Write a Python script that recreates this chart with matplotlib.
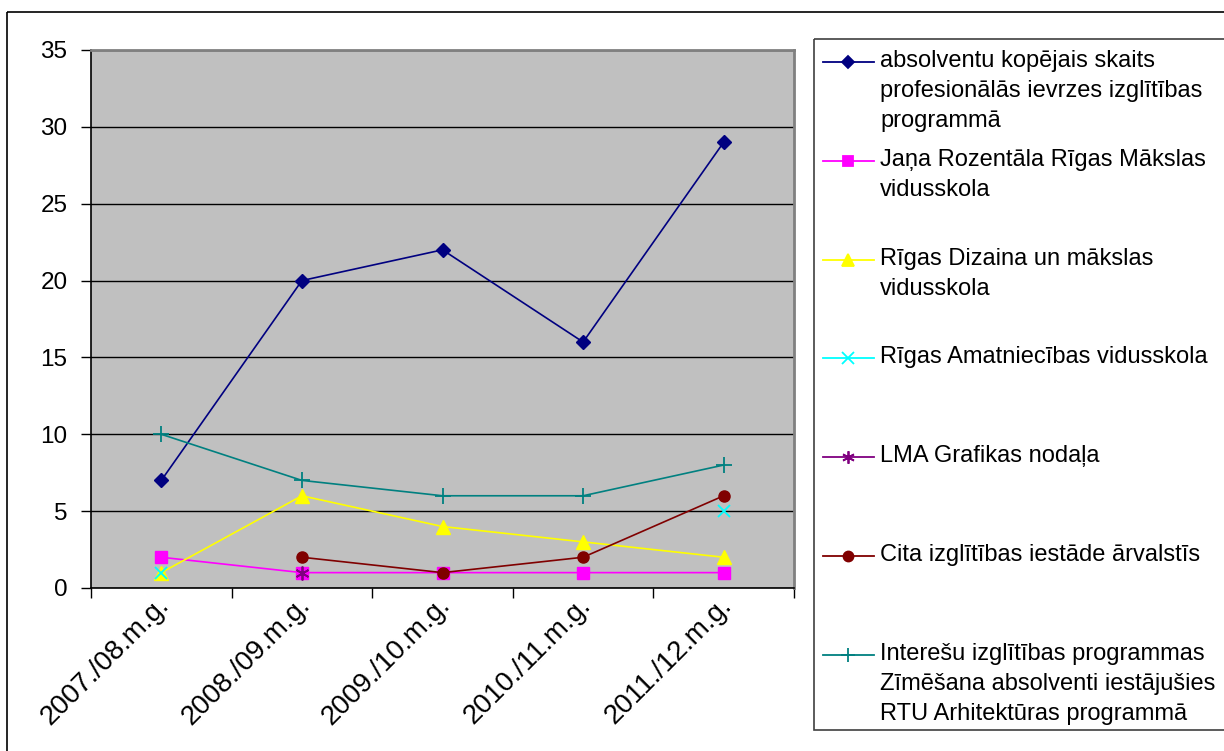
import matplotlib
matplotlib.use("Agg")
import matplotlib.pyplot as plt
import numpy as np
from matplotlib.lines import Line2D
from matplotlib.patches import Rectangle
import matplotlib.transforms as mtransforms

plt.rcParams['font.family'] = ['Liberation Sans', 'DejaVu Sans']

categories = ["2007./08.m.g.", "2008./09.m.g.", "2009./10.m.g.", "2010./11.m.g.", "2011./12.m.g."]
absolventu = [7, 20, 22, 16, 29]
rozentala = [2, 1, 1, 1, 1]
dizaina = [1, 6, 4, 3, 2]
amatniecibas = [1, np.nan, np.nan, np.nan, 5]
lma = [np.nan, 1, np.nan, np.nan, np.nan]
cita = [np.nan, 2, 1, 2, 6]
interesu = [10, 7, 6, 6, 8]

labels = [
    "absolventu kopējais skaits\nprofesionālās ievrzes izglītības\nprogrammā",
    "Jaņa Rozentāla Rīgas Mākslas\nvidusskola",
    "Rīgas Dizaina un mākslas\nvidusskola",
    "Rīgas Amatniecības vidusskola",
    "LMA Grafikas nodaļa",
    "Cita izglītības iestāde ārvalstīs",
    "Interešu izglītības programmas\nZīmēšana absolventi iestājušies\nRTU Arhitektūras programmā",
]
series = [absolventu, rozentala, dizaina, amatniecibas, lma, cita, interesu]
colors = ["#000080", "#FF00FF", "#FFFF00", "#00FFFF", "#800080", "#800000", "#008080"]
markers = ["D", "s", "^", "x", (6, 2, 0), "o", "+"]
msizes = [7, 8, 10, 9, 10, 8, 11]

W, H = 1224, 751
fig = plt.figure(figsize=(W / 100, H / 100), dpi=100)

# overlay for frame and legend in pixel coordinates
ov = fig.add_axes([0, 0, 1, 1], zorder=0)
ov.set_xlim(0, W)
ov.set_ylim(H, 0)
ov.axis('off')
ov.patch.set_visible(False)
ov.add_patch(Rectangle((7, 12), W + 20, H + 20, fill=False, ec='black', lw=1.2))

x0, x1 = 91, 794
ytop, ybot = 50, 588
ax = fig.add_axes([x0 / W, 1 - ybot / H, (x1 - x0) / W, (ybot - ytop) / H], zorder=2)
ax.set_facecolor("#C0C0C0")
xs = np.arange(len(categories))
for s, c, m, ms in zip(series, colors, markers, msizes):
    ax.plot(xs, s, color=c, marker=m, markersize=ms, lw=1.2,
            markeredgewidth=1.3 if m in ("x", "+") or isinstance(m, tuple) else 1.0,
            markeredgecolor=c, clip_on=False, zorder=3)
ax.set_xlim(-0.5, len(categories) - 0.5)
ax.set_ylim(0, 35)
ax.set_yticks(np.arange(0, 36, 5))
ax.yaxis.grid(True, color='black', lw=1.0)
ax.set_axisbelow(True)
ax.set_xticks(np.arange(-0.5, len(categories), 1.0))
ax.set_xticklabels([])
ax.set_xticks(xs, minor=True)
ax.set_xticklabels(categories, minor=True, rotation=45, ha='right', va='top',
                   rotation_mode='anchor', fontsize=20)
ax.tick_params(axis='x', which='minor', length=0, pad=3)
off = mtransforms.ScaledTranslation(-5 / 100, 0, fig.dpi_scale_trans)
for t in ax.xaxis.get_minorticklabels():
    t.set_transform(t.get_transform() + off)
ax.tick_params(axis='x', which='major', length=7, width=1, color='black', direction='out')
ax.tick_params(axis='y', length=7, width=1, labelsize=17.5, pad=10)
for sp in ['left', 'bottom']:
    ax.spines[sp].set_color('black')
    ax.spines[sp].set_linewidth(1.2)
for sp in ['top', 'right']:
    ax.spines[sp].set_color('#808080')
    ax.spines[sp].set_linewidth(2)

# legend box
ov.add_patch(Rectangle((814, 39), W, 730 - 39, fill=False, ec='#404040', lw=1.2))
fs = 17
for i, (lab, c, m, ms) in enumerate(zip(labels, colors, markers, msizes)):
    yh = 62 + 98.8 * i
    ov.add_line(Line2D([823, 874], [yh, yh], color=c, lw=1.3))
    ov.add_line(Line2D([848], [yh], color=c, marker=m, markersize=ms * 0.9,
                       markeredgecolor=c, markeredgewidth=1.3))
    for k, line in enumerate(lab.split("\n")):
        ov.text(880, yh + 5 + 30 * k, line, fontsize=fs, va='baseline', ha='left')

fig.savefig("out.png", dpi=100)
